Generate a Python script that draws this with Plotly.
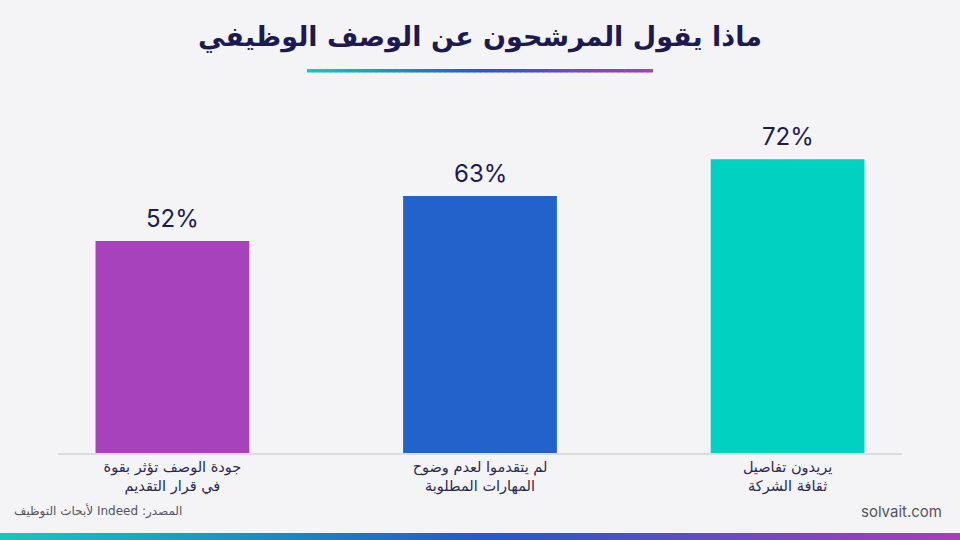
import plotly.graph_objects as go

categories = ["جودة الوصف تؤثر بقوة<br>في قرار التقديم",
              "لم يتقدموا لعدم وضوح<br>المهارات المطلوبة",
              "يريدون تفاصيل<br>ثقافة الشركة"]
values = [52, 63, 72]
value_labels = ["52%", "63%", "72%"]
bar_colors = ["#A643BC", "#2262CB", "#00D1C1"]

title_text = "ماذا يقول المرشحون عن الوصف الوظيفي"
source_text = "المصدر: Indeed لأبحاث التوظيف"
brand_text = "solvait.com"

NAVY = "#1d1a4f"
BG = "#f4f4f6"

xpos = list(range(len(categories)))

fig = go.Figure()
fig.add_trace(go.Bar(
    x=xpos, y=values, marker=dict(color=bar_colors, line=dict(width=0)),
    width=0.5, hoverinfo="skip",
))

for xi, v, lab in zip(xpos, values, value_labels):
    fig.add_annotation(x=xi, y=v, text=lab, showarrow=False, yanchor="bottom",
                       yshift=6, font=dict(family="Inter, Lato, sans-serif", size=24, color=NAVY))

def lerp(c1, c2, t):
    return tuple(int(round(a + (b - a) * t)) for a, b in zip(c1, c2))

stops = [(0.0, (20, 200, 188)), (0.5, (34, 90, 200)), (1.0, (170, 60, 190))]

def grad_color(t):
    for (t0, c0), (t1, c1) in zip(stops[:-1], stops[1:]):
        if t <= t1:
            c = lerp(c0, c1, (t - t0) / (t1 - t0))
            return "rgb(%d,%d,%d)" % c
    return "rgb(%d,%d,%d)" % stops[-1][1]

W, H = 960, 540
ML, MR, MT, MB = 58, 58, 90, 87
PW, PH = W - ML - MR, H - MT - MB

def px_to_paper_x(px):
    return (px - ML) / PW

def px_to_paper_y(py):
    return (H - MB - py) / PH

shapes = []
def grad_bar_px(x0, x1, y0, y1, n=80):
    for i in range(n):
        a = x0 + (x1 - x0) * i / n
        b = min(x0 + (x1 - x0) * (i + 1) / n + 0.6, x1)
        shapes.append(dict(type="rect", xref="paper", yref="paper",
                           x0=px_to_paper_x(a), x1=px_to_paper_x(b),
                           y0=px_to_paper_y(y1), y1=px_to_paper_y(y0),
                           fillcolor=grad_color(i / (n - 1)), line=dict(width=0), layer="above"))

grad_bar_px(307, 653, 69, 72.5, n=60)
grad_bar_px(0, 960, 533, 540, n=120)

fig.update_layout(
    width=W, height=H,
    paper_bgcolor=BG, plot_bgcolor=BG,
    margin=dict(l=ML, r=MR, t=MT, b=MB),
    showlegend=False,
    title=dict(text="<b>" + title_text + "</b>", x=0.5, xanchor="center",
               y=1 - 37 / H, yanchor="middle", yref="container",
               font=dict(family="DejaVu Sans", size=27, color=NAVY)),
    xaxis=dict(range=[-0.372, 2.372], tickmode="array", tickvals=xpos, ticktext=categories,
               showgrid=False, zeroline=False, showline=True, linecolor="#dcdcdf", linewidth=1.5,
               ticks="", tickfont=dict(family="DejaVu Sans", size=14.5, color="#2b2850"),
               fixedrange=True),
    yaxis=dict(range=[0, 89], visible=False, fixedrange=True),
    shapes=shapes,
    bargap=0.5,
)

fig.add_annotation(xref="paper", yref="paper", x=px_to_paper_x(184), y=px_to_paper_y(511),
                   xanchor="right", yanchor="middle", showarrow=False,
                   text="\u202B" + source_text + "\u202C",
                   font=dict(family="DejaVu Sans", size=12, color="#555560"))
fig.add_annotation(xref="paper", yref="paper", x=px_to_paper_x(944), y=px_to_paper_y(511),
                   xanchor="right", yanchor="middle", showarrow=False, text=brand_text,
                   font=dict(family="Inter, Lato, sans-serif", size=15, color="#555560"))

fig.write_html("out.html")
